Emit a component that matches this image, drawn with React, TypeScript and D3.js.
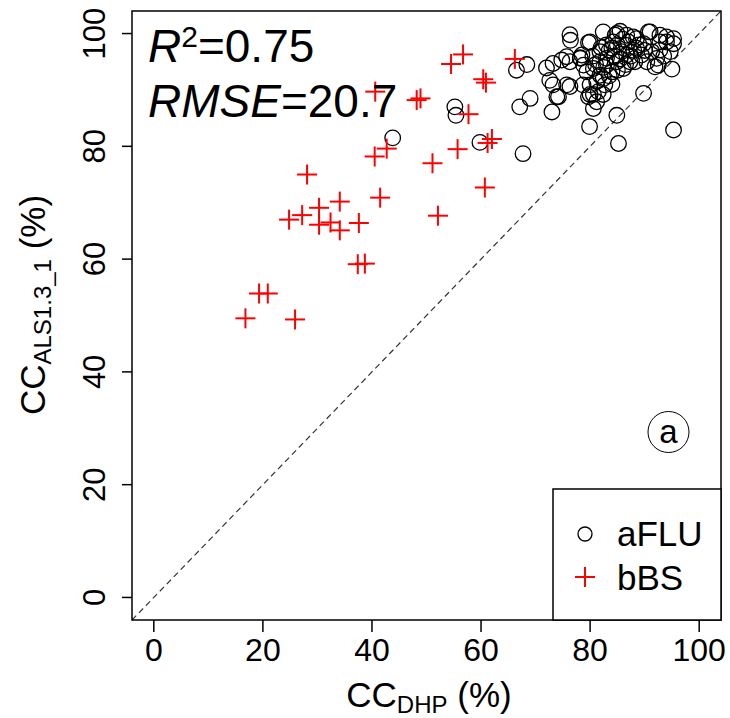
import React from "react";
import * as d3 from "d3";

const ticks = [0, 20, 40, 60, 80, 100];

// aFLU: [CC_DHP, CC_ALS]
const afluX = [43.8,55.2,55.4,59.8,66.5,68.4,67.1,69.0,67.7,73.0,72.0,73.2,72.6,73.2,73.9,74.8,75.7,76.3,76.4,76.3,74.2,78.8,78.2,78.5,79.7,79.7,80.6,79.9,82.4,82.7,80.0,81.8,84.9,85.2,89.8,95.3,95.0,92.2,91.0,94.0,95.3,92.8,90.4,91.9,86.7,88.5,82.4,84.6,85.5,88.2,
80.0,84.9,87.9,90.7,94.0,95.3,92.8,84.0,85.8,86.7,83.0,81.8,80.6,84.9,89.4,91.3,92.5,81.2,81.5,78.2,79.4,76.3,75.7,78.7,82.4,84.0,86.1,87.3,88.5,92.8,94.7,89.8,86.7,84.2,81.8,80.0,83.0,81.2,80.6,
83.5,85.0,86.0,87.0,84.5,85.5,83.0,82.0,88.0,87.5,86.5,85.0,83.5,82.5,84.0,81.0,80.5,89.0,90.0,93.5];
const afluY = [81.5,87.0,85.5,80.7,93.5,94.5,87.0,88.5,78.7,86.1,93.9,94.7,91.7,90.9,88.8,95.3,95.9,99.8,98.8,90.6,88.8,94.4,95.7,96.2,98.4,88.8,86.7,83.5,89.2,90.9,90.9,92.6,85.5,80.5,89.4,82.9,93.7,95.6,100.3,98.5,99.1,99.7,95.0,94.1,99.7,99.1,100.3,99.7,100.4,95.0,
98.5,100.0,99.4,100.3,99.4,98.2,98.5,97.4,96.8,97.9,95.6,95.0,93.8,95.0,96.2,96.8,94.4,91.5,89.7,95.6,93.2,95.0,90.9,90.9,92.0,93.2,93.8,95.0,97.4,97.1,96.8,98.2,96.2,98.5,96.8,89.2,94.4,87.9,89.2,
97.0,98.0,99.0,98.5,96.0,95.5,98.0,97.5,97.0,96.0,94.5,93.5,92.5,94.0,91.0,94.5,96.0,98.0,97.0,96.0];

// bBS
const bbsX = [16.8,25.9,19.3,20.9,28.1,24.8,27.2,30.3,34.1,30.3,32.4,34.1,37.6,37.4,38.7,41.5,40.5,42.7,40.6,48.2,48.9,56.7,54.5,66.2,60.4,60.9,57.7,61.2,62.0,55.7,51.1,60.7,52.1];
const bbsY = [49.5,49.3,53.9,53.9,75.0,67.0,67.8,69.1,70.2,66.1,66.5,65.1,66.4,59.1,59.2,70.9,78.2,79.6,89.7,88.2,88.5,96.3,94.6,95.5,91.9,91.3,85.7,80.6,81.3,79.5,77.0,72.7,67.7];

const legendLabels = ["aFLU", "bBS"];

const FONT = "'Liberation Sans', Arial, sans-serif";

export default function App() {
  const x = d3.scaleLinear().domain([-4, 104]).range([132, 721]);
  const y = d3.scaleLinear().domain([-4, 104]).range([620, 11]);
  const [x0, x1] = x.range();
  const [y0, y1] = y.range();
  const cross = (cx: number, cy: number, k: string, s = 10) => (
    <g key={k} stroke="#ff0000" strokeWidth={2}>
      <line x1={cx - s} x2={cx + s} y1={cy} y2={cy} />
      <line x1={cx} x2={cx} y1={cy - s} y2={cy + s} />
    </g>
  );
  return (
    <svg width={730} height={718} style={{ position: "absolute", left: 0, top: 0, background: "#fff" }} fontFamily={FONT}>
      <rect x={0} y={0} width={730} height={718} fill="#fff" />
      {/* diagonal */}
      <line x1={x(-4)} y1={y(-4)} x2={x(104)} y2={y(104)} stroke="#333" strokeWidth={1.2} strokeDasharray="6,4" />
      {/* circles */}
      {afluX.map((v, i) => (
        <circle key={"c" + i} cx={x(v)} cy={y(afluY[i])} r={7.8} fill="none" stroke="#000" strokeWidth={1.3} />
      ))}
      {bbsX.map((v, i) => cross(x(v), y(bbsY[i]), "p" + i))}
      {/* box */}
      <rect x={x0} y={y1} width={x1 - x0} height={y0 - y1} fill="none" stroke="#000" strokeWidth={1.5} />
      {/* x ticks */}
      {ticks.map((t) => (
        <g key={"xt" + t}>
          <line x1={x(t)} x2={x(t)} y1={y0} y2={y0 + 12} stroke="#000" strokeWidth={1.5} />
          <text x={x(t)} y={661} textAnchor="middle" fontSize={32}>{t}</text>
        </g>
      ))}
      {/* y ticks */}
      {ticks.map((t) => (
        <g key={"yt" + t}>
          <line x1={x0 - 10} x2={x0} y1={y(t)} y2={y(t)} stroke="#000" strokeWidth={1.5} />
          <text transform={`translate(105,${y(t)}) rotate(-90)`} textAnchor="middle" fontSize={31}>{t}</text>
        </g>
      ))}
      {/* axis titles */}
      <text x={429} y={707} textAnchor="middle" fontSize={35}>
        CC<tspan fontSize={24} dy={6}>DHP</tspan><tspan dy={-6}> (%)</tspan>
      </text>
      <text transform="translate(45,305) rotate(-90)" textAnchor="middle" fontSize={35}>
        CC<tspan fontSize={24} dy={6}>ALS1.3_1</tspan><tspan dy={-6}> (%)</tspan>
      </text>
      {/* stats */}
      <text x={148} y={62} fontSize={46}>
        <tspan fontStyle="italic">R</tspan><tspan fontSize={30} dy={-15}>2</tspan><tspan dy={15}>=0.75</tspan>
      </text>
      <text x={148} y={117} fontSize={46}>
        <tspan fontStyle="italic">RMSE</tspan>=20.7
      </text>
      {/* panel label */}
      <circle cx={668.5} cy={432} r={20.5} fill="none" stroke="#000" strokeWidth={1} />
      <text x={668.5} y={443} textAnchor="middle" fontSize={33}>a</text>
      {/* legend */}
      <rect x={553} y={489} width={x1 - 553} height={y0 - 489} fill="#fff" stroke="#000" strokeWidth={1.5} />
      <circle cx={585} cy={534} r={7} fill="none" stroke="#000" strokeWidth={1.3} />
      {cross(585, 577, "lg")}
      <text x={617} y={546} fontSize={35}>{legendLabels[0]}</text>
      <text x={617} y={590} fontSize={35}>{legendLabels[1]}</text>
    </svg>
  );
}
